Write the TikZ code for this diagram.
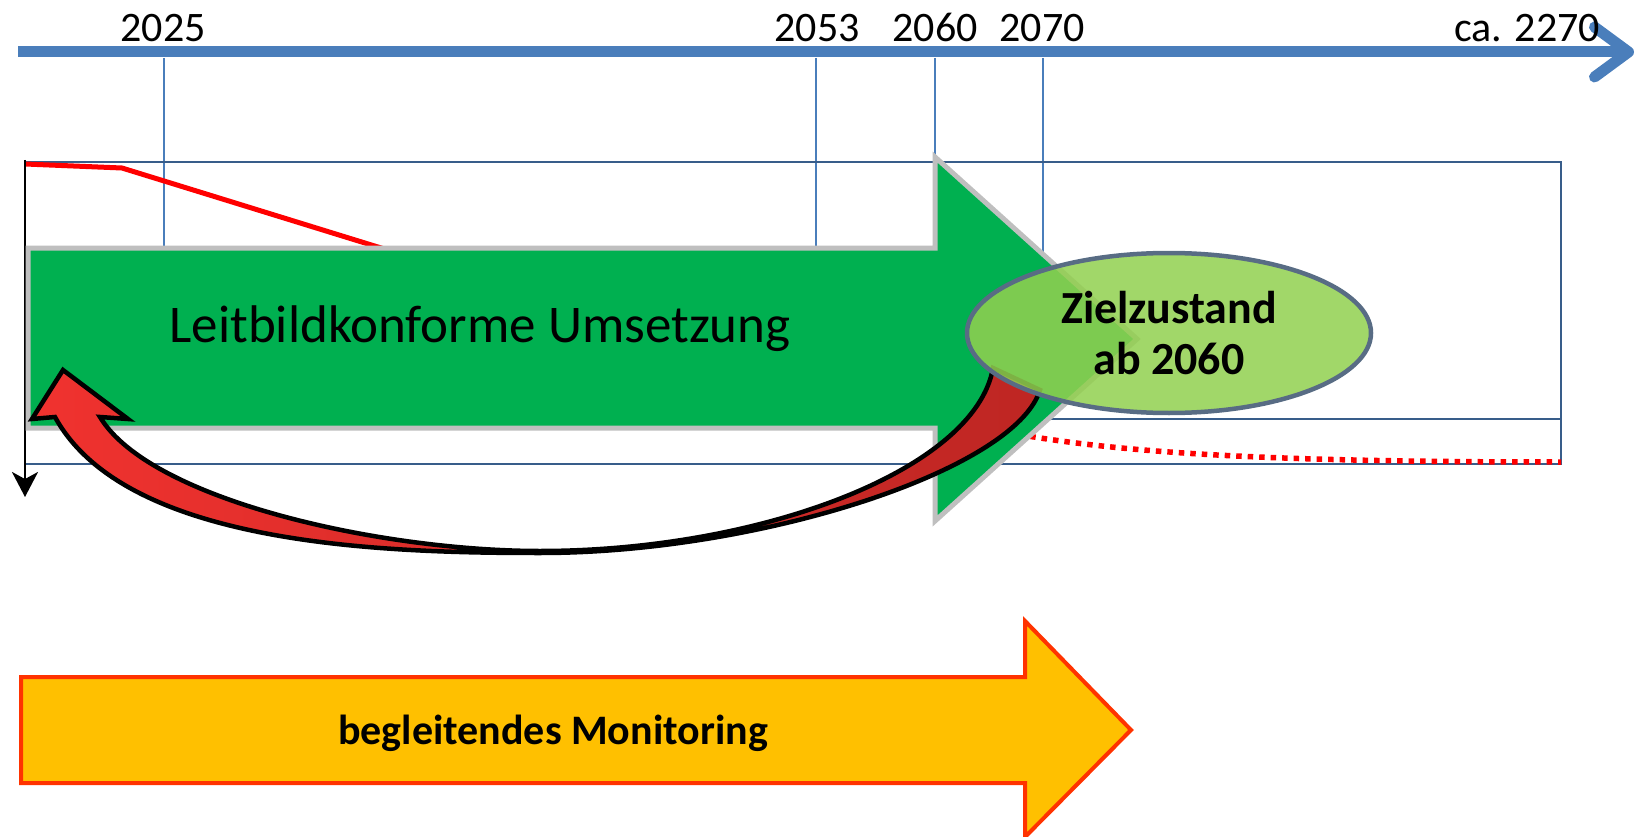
\documentclass[tikz,border=0pt]{standalone}
\usepackage{fontspec}
\setmainfont{Carlito}
\usetikzlibrary{arrows.meta,shapes.geometric}
\definecolor{axisblue}{RGB}{74,126,187}
\definecolor{frameblue}{RGB}{56,93,138}
\definecolor{arrowgreen}{RGB}{0,176,80}
\definecolor{bordergrey}{RGB}{191,191,191}
\definecolor{lightgreen}{RGB}{146,208,80}
\definecolor{ellborder}{RGB}{88,108,132}
\definecolor{redA}{RGB}{240,50,47}
\definecolor{redB}{RGB}{190,38,35}
\definecolor{monfill}{RGB}{255,192,0}
\definecolor{monborder}{RGB}{255,51,0}
\tikzset{
  yearlabel/.style={anchor=base, inner sep=0pt, font=\fontsize{42}{46}\selectfont},
  tickline/.style={draw=axisblue, line width=1.4pt},
  framebox/.style={draw=frameblue, line width=2pt},
  decline/.style={draw=red, line width=5pt},
  bigarrow/.style={fill=arrowgreen, draw=bordergrey, line width=5pt, line join=miter},
  monarrow/.style={fill=monfill, draw=monborder, line width=4pt, line join=miter},
  backarrow/.style={left color=redA, right color=redB, draw=black, line width=4.5pt, line join=miter, miter limit=6},
  goalell/.style={ellipse, fill=lightgreen, fill opacity=0.86, draw=ellborder, draw opacity=1, line width=4.5pt, text opacity=1,
    minimum width=404pt, minimum height=160pt, inner sep=0pt, align=center,
    font=\fontsize{46}{51}\selectfont\bfseries},
}
\begin{document}
\begin{tikzpicture}[x=1pt,y=-1pt]
\useasboundingbox (0,0) rectangle (1641,837);

% time axis
\coordinate (axisL) at (18,52);
\coordinate (axisR) at (1634,52);
\draw[draw=axisblue, line width=11pt, -{Straight Barb[length=34pt,width=50pt,round]}] (axisL) -- (axisR);

% year labels
\node[yearlabel] (y2025) at (163,42) {2025};
\node[yearlabel] (y2053) at (817,42) {2053};
\node[yearlabel] (y2060) at (935,42) {2060};
\node[yearlabel] (y2070) at (1042,42) {2070};
\node[yearlabel] (y2270) at (1527,42) {ca. 2270};

% tick lines
\coordinate (t2025a) at (164,58); \coordinate (t2025b) at (164,419);
\coordinate (t2053a) at (816,58); \coordinate (t2053b) at (816,419);
\coordinate (t2060a) at (935,58); \coordinate (t2060b) at (935,160);
\coordinate (t2070a) at (1043,58); \coordinate (t2070b) at (1043,419);
\draw[tickline] (t2025a) -- (t2025b);
\draw[tickline] (t2053a) -- (t2053b);
\draw[tickline] (t2060a) -- (t2060b);
\draw[tickline] (t2070a) -- (t2070b);

% frame
\draw[framebox] (25,162) rectangle (1561,464);
\draw[framebox] (25,419) -- (1561,419);

% decline line
\draw[decline, line join=round] (25,164) -- (122,168) -- (420,260);
\draw[draw=red, line width=5.5pt, dash pattern=on 5.5pt off 6pt] (985,428) .. controls (1100,452) and (1250,462) .. (1561,462);

% left time arrow
\coordinate (downA) at (25,160);
\coordinate (downB) at (25,497);
\draw[draw=black, line width=2.5pt, -{Stealth[length=25pt,width=26pt,inset=7pt]}] (downA) -- (downB);

% green implementation arrow
\path[bigarrow] (28,248) -- (935,248) -- (935,157) -- (1137,339) -- (935,521) -- (935,428) -- (28,428) -- cycle;
\node[font=\fontsize{53}{58}\selectfont, anchor=base, inner sep=0pt] (umsetzung) at (480,342) {Leitbildkonforme Umsetzung};

% red feedback arrow
\path[backarrow] (993,368) .. controls (975,470) and (760,551) .. (540,551)
  .. controls (380,551) and (150,500) .. (100,417)
  -- (128,419) -- (63,370) -- (32,419) -- (55,417)
  .. controls (125,545) and (380,553) .. (540,553)
  .. controls (760,553) and (1015,470) .. (1040,390) -- cycle;

% goal ellipse
\node[goalell] (ziel) at (1169,333) {Zielzustand\\ab 2060};

% monitoring arrow
\path[monarrow] (21,677) -- (1025,677) -- (1025,621) -- (1131,730) -- (1025,837) -- (1025,783) -- (21,783) -- cycle;
\node[font=\fontsize{42}{46}\selectfont\bfseries, anchor=base, inner sep=0pt] (monitoring) at (553,744) {begleitendes Monitoring};
\end{tikzpicture}
\end{document}
